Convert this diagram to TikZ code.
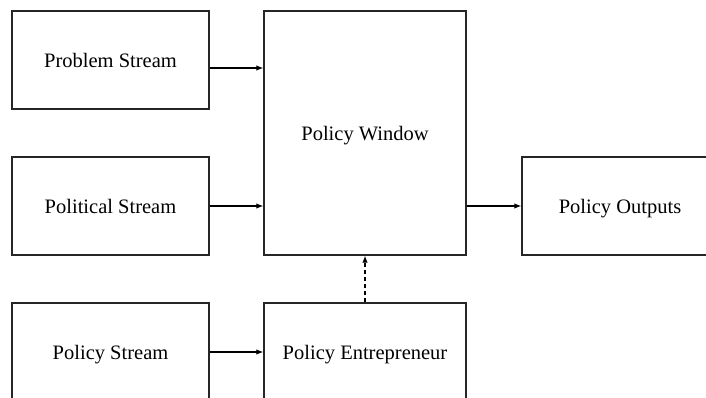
\documentclass[tikz,border=0pt]{standalone}
\usepackage{fontspec}
\setmainfont{Liberation Serif}
\usetikzlibrary{arrows.meta}
\begin{document}
\begin{tikzpicture}[x=1pt,y=-1pt,
 box/.style={draw=black!85, line width=1.3pt, inner sep=0pt, text depth=0pt, font=\fontsize{20.5}{24}\selectfont},
 conn/.style={line width=1.2pt, -{Latex[length=7pt,width=5.5pt]}}]
\useasboundingbox (0,0) rectangle (706,398);
\clip (0,0) rectangle (706,398);
\fill[white] (0,0) rectangle (706,398);
\node[box, minimum width=197, minimum height=98] (prob) at (110.5,60) {Problem Stream};
\node[box, minimum width=197, minimum height=98] (pol) at (110.5,206) {Political Stream};
\node[box, minimum width=197, minimum height=98] (pst) at (110.5,352) {Policy Stream};
\node[box, minimum width=202, minimum height=244] (win) at (365,133) {Policy Window};
\node[box, minimum width=202, minimum height=98] (ent) at (365,352) {Policy Entrepreneur};
\node[box, minimum width=196, minimum height=98] (out) at (620,206) {Policy Outputs};
\draw[conn] ([yshift=-8pt]prob.east) -- ([yshift=-8pt]prob.east -| win.west);
\draw[conn] (pol.east) -- (pol.east -| win.west);
\draw[conn] (pst.east) -- (pst.east -| ent.west);
\draw[conn] (win.east |- out.west) -- (out.west);
\draw[conn, dash pattern=on 4pt off 3pt] (ent.north) -- (ent.north |- win.south);
\end{tikzpicture}
\end{document}
